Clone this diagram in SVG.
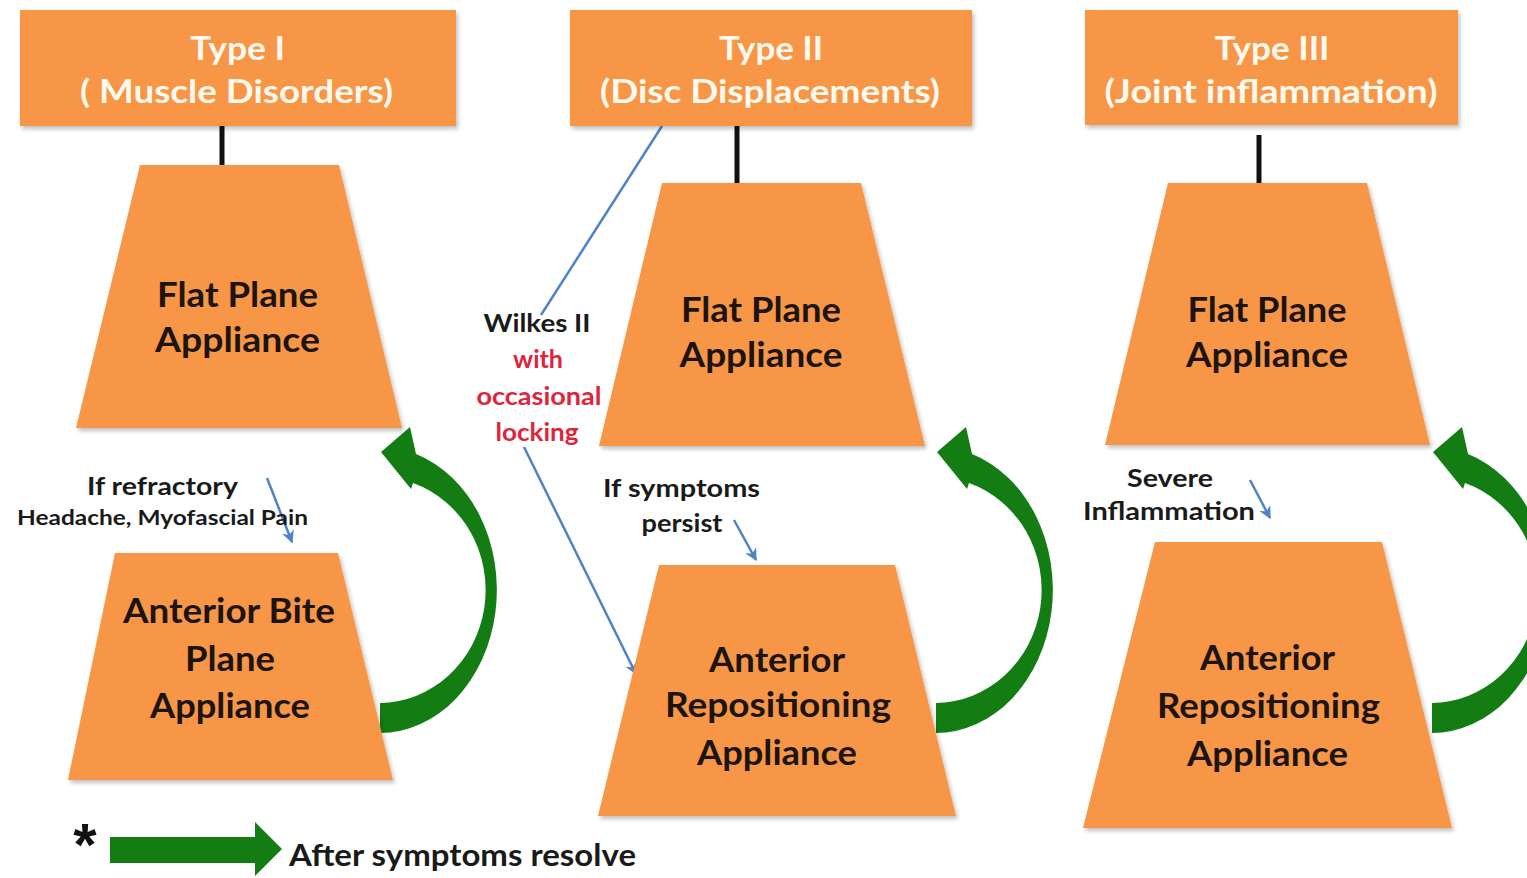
<svg xmlns="http://www.w3.org/2000/svg" width="1527" height="878" viewBox="0 0 1527 878">
<style>
.box{fill:#F79646;filter:url(#sh);}
.hd{font-family:Lato,"Open Sans","Liberation Sans",sans-serif;font-weight:700;font-size:32px;fill:#FFF9EE;text-anchor:middle;}
.tx{font-family:Lato,"Open Sans","Liberation Sans",sans-serif;font-weight:700;font-size:35px;fill:#1c1410;text-anchor:middle;}
.sm{font-family:Lato,"Open Sans","Liberation Sans",sans-serif;font-weight:700;font-size:24px;fill:#1a1a1a;text-anchor:middle;}
.red{fill:#E0243C;}
.blk{stroke:#111;stroke-width:5;fill:none;}
.blu{stroke:#4F83C6;stroke-width:2.5;fill:none;marker-end:url(#ah);}
.blu0{stroke:#4F83C6;stroke-width:2.5;fill:none;}
.grn{fill:#137C13;}
</style>
<defs>
<filter id="sh" x="-5%" y="-5%" width="112%" height="115%">
<feGaussianBlur in="SourceAlpha" stdDeviation="2"/>
<feOffset dx="2" dy="3" result="b"/>
<feComponentTransfer><feFuncA type="linear" slope="0.25"/></feComponentTransfer>
<feMerge><feMergeNode/><feMergeNode in="SourceGraphic"/></feMerge>
</filter>
<marker id="ah" viewBox="0 0 10 10" refX="9" refY="5" markerWidth="5" markerHeight="5" orient="auto" markerUnits="strokeWidth">
<path d="M0,0 L10,5 L0,10 L3,5 Z" fill="#4F83C6"/>
</marker>
<path id="circ" d="M381,452 L410,427 L416,454 A117 143 0 0 1 380,733 L380,703 A107 113 0 0 0 413,483 L411,489 Z"/>
</defs>
<rect width="1527" height="878" fill="#ffffff"/>

<g id="connectors">
<line class="blk" x1="222" y1="126" x2="222" y2="166"/>
<line class="blk" x1="737" y1="126" x2="737" y2="184"/>
<line class="blk" x1="1259" y1="135" x2="1259" y2="184"/>
<line class="blu0" x1="662" y1="126" x2="541" y2="315"/>
<line class="blu" x1="524" y1="447" x2="636" y2="674"/>
<line class="blu" x1="267" y1="478" x2="292" y2="542"/>
<line class="blu" x1="734" y1="520" x2="756" y2="560"/>
<line class="blu" x1="1250" y1="480" x2="1270" y2="518"/>
<use href="#circ" class="grn"/>
<use href="#circ" class="grn" transform="translate(556,0)"/>
<use href="#circ" class="grn" transform="translate(1052,0)"/>
</g>

<g id="type1">
<rect class="box" x="20" y="10" width="436" height="116"/>
<text class="hd" x="237.5" y="60" textLength="95" lengthAdjust="spacingAndGlyphs">Type I</text>
<text class="hd" x="236.5" y="103" textLength="313" lengthAdjust="spacingAndGlyphs">( Muscle Disorders)</text>
</g>
<g id="type2">
<rect class="box" x="570" y="10" width="402" height="116"/>
<text class="hd" x="771" y="60" textLength="104" lengthAdjust="spacingAndGlyphs">Type II</text>
<text class="hd" x="770" y="103" textLength="340" lengthAdjust="spacingAndGlyphs">(Disc Displacements)</text>
</g>
<g id="type3">
<rect class="box" x="1085" y="10" width="373" height="115"/>
<text class="hd" x="1272" y="60" textLength="115" lengthAdjust="spacingAndGlyphs">Type III</text>
<text class="hd" x="1271" y="103" textLength="333" lengthAdjust="spacingAndGlyphs">(Joint inflammation)</text>
</g>

<g id="flat1">
<polygon class="box" points="140,165 339,165 402,428 76,428"/>
<text class="tx" x="237.5" y="307" textLength="161" lengthAdjust="spacingAndGlyphs">Flat Plane</text>
<text class="tx" x="237.5" y="352" textLength="165" lengthAdjust="spacingAndGlyphs">Appliance</text>
</g>
<g id="bite1">
<polygon class="box" points="115,553 338,553 393,780 68,780"/>
<text class="tx" x="229" y="623" textLength="212" lengthAdjust="spacingAndGlyphs">Anterior Bite</text>
<text class="tx" x="230" y="671" textLength="90" lengthAdjust="spacingAndGlyphs">Plane</text>
<text class="tx" x="230" y="718" textLength="160" lengthAdjust="spacingAndGlyphs">Appliance</text>
</g>
<g id="flat2">
<polygon class="box" points="662,183 861,183 925,446 599,446"/>
<text class="tx" x="761" y="322" textLength="160" lengthAdjust="spacingAndGlyphs">Flat Plane</text>
<text class="tx" x="761" y="367" textLength="163" lengthAdjust="spacingAndGlyphs">Appliance</text>
</g>
<g id="rep2">
<polygon class="box" points="659,565 895,565 956,816 598,816"/>
<text class="tx" x="777" y="672" textLength="136" lengthAdjust="spacingAndGlyphs">Anterior</text>
<text class="tx" x="778" y="717" textLength="226" lengthAdjust="spacingAndGlyphs">Repositioning</text>
<text class="tx" x="777" y="765" textLength="160" lengthAdjust="spacingAndGlyphs">Appliance</text>
</g>
<g id="flat3">
<polygon class="box" points="1168,183 1367,183 1430,445 1105,445"/>
<text class="tx" x="1267" y="322" textLength="159" lengthAdjust="spacingAndGlyphs">Flat Plane</text>
<text class="tx" x="1267" y="367" textLength="162" lengthAdjust="spacingAndGlyphs">Appliance</text>
</g>
<g id="rep3">
<polygon class="box" points="1155,542 1382,542 1452,828 1083,828"/>
<text class="tx" x="1267.5" y="670" textLength="135" lengthAdjust="spacingAndGlyphs">Anterior</text>
<text class="tx" x="1268.5" y="718" textLength="223" lengthAdjust="spacingAndGlyphs">Repositioning</text>
<text class="tx" x="1267.5" y="766" textLength="161" lengthAdjust="spacingAndGlyphs">Appliance</text>
</g>

<g id="label-wilkes">
<text class="sm" x="537" y="332" textLength="107" lengthAdjust="spacingAndGlyphs">Wilkes II</text>
<text class="sm red" x="538" y="368" textLength="50" lengthAdjust="spacingAndGlyphs">with</text>
<text class="sm red" x="539" y="405" textLength="125" lengthAdjust="spacingAndGlyphs">occasional</text>
<text class="sm red" x="537" y="441" textLength="83" lengthAdjust="spacingAndGlyphs">locking</text>
</g>
<g id="label-refractory">
<text class="sm" x="162.5" y="495" textLength="151" lengthAdjust="spacingAndGlyphs">If refractory</text>
<text class="sm" x="162.5" y="525" style="font-size:21px" textLength="291" lengthAdjust="spacingAndGlyphs">Headache, Myofascial Pain</text>
</g>
<g id="label-persist">
<text class="sm" x="681.5" y="497" textLength="157" lengthAdjust="spacingAndGlyphs">If symptoms</text>
<text class="sm" x="682" y="532" textLength="81" lengthAdjust="spacingAndGlyphs">persist</text>
</g>
<g id="label-severe">
<text class="sm" x="1170" y="487" textLength="86" lengthAdjust="spacingAndGlyphs">Severe</text>
<text class="sm" x="1169" y="520" textLength="172" lengthAdjust="spacingAndGlyphs">Inflammation</text>
</g>

<g id="legend">
<text x="85" y="865" style="font-family:'Liberation Sans',Arial,sans-serif;font-weight:700;font-size:60px;fill:#111;text-anchor:middle">*</text>
<path class="grn" d="M110,837 L255,837 L255,822 L282,849 L255,876 L255,863 L110,863 Z"/>
<text class="sm" x="462.5" y="866" style="font-size:30px" textLength="347" lengthAdjust="spacingAndGlyphs">After symptoms resolve</text>
</g>
</svg>
